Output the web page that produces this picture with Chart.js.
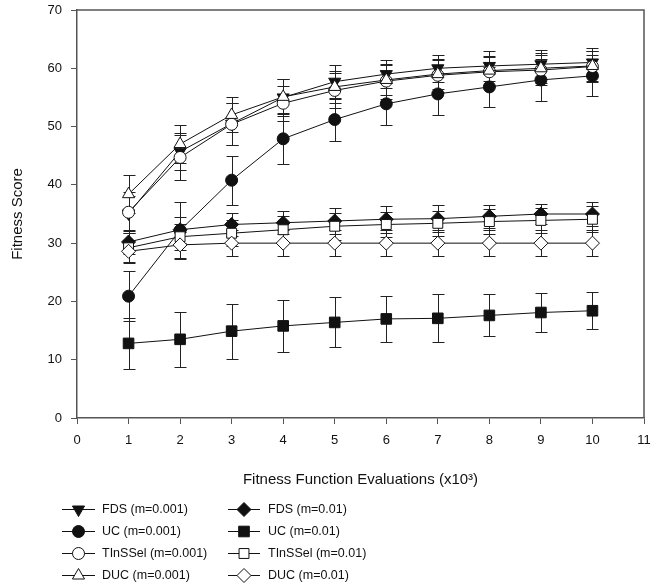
<!DOCTYPE html>
<html>
<head>
<meta charset="utf-8">
<script src="https://cdn.jsdelivr.net/npm/chart.js@4/dist/chart.umd.min.js"></script>
<style>
html,body{margin:0;padding:0;background:#fff;}
#wrap{width:662px;height:583px;position:relative;}
</style>
</head>
<body>
<div id="wrap"><canvas id="c" width="662" height="583"></canvas></div>
<script>
const evaluations = [1, 2, 3, 4, 5, 6, 7, 8, 9, 10];
const xTicks = [0, 1, 2, 3, 4, 5, 6, 7, 8, 9, 10, 11];
const yTicks = [0, 10, 20, 30, 40, 50, 60, 70];

const fds001 = [35.1, 45.7, 50.5, 55.0, 57.7, 59.0, 60.0, 60.4, 60.7, 61.0];
const fds001Err = [3.0, 3.2, 3.6, 3.2, 2.8, 2.4, 2.3, 2.5, 2.5, 2.4];
const uc001 = [20.9, 32.2, 40.8, 47.9, 51.2, 53.9, 55.6, 56.8, 58.0, 58.7];
const uc001Err = [4.3, 4.9, 4.2, 4.4, 3.6, 3.6, 3.6, 3.4, 3.6, 3.5];
const tin001 = [35.3, 44.7, 50.4, 54.0, 56.2, 57.8, 58.8, 59.4, 59.7, 60.3];
const tin001Err = [3.5, 3.8, 3.6, 3.0, 3.0, 3.0, 2.8, 2.6, 2.6, 2.6];
const duc001 = [38.4, 47.0, 52.0, 55.1, 56.8, 58.0, 59.0, 59.6, 60.0, 60.4];
const duc001Err = [3.3, 3.3, 3.0, 3.0, 2.8, 2.6, 2.5, 2.5, 2.6, 2.5];

const fds01 = [30.2, 32.3, 33.2, 33.5, 33.8, 34.1, 34.2, 34.6, 35.0, 35.0];
const fds01Err = [2.0, 2.2, 2.0, 2.0, 2.2, 2.3, 2.3, 2.0, 1.8, 2.1];
const uc01 = [12.8, 13.5, 14.9, 15.8, 16.4, 17.0, 17.1, 17.6, 18.1, 18.4];
const uc01Err = [4.4, 4.7, 4.7, 4.4, 4.3, 4.0, 4.1, 3.6, 3.4, 3.2];
const tin01 = [29.2, 31.1, 31.7, 32.3, 32.9, 33.2, 33.4, 33.7, 33.9, 34.1];
const tin01Err = [2.5, 2.2, 2.2, 2.3, 2.3, 2.2, 2.2, 2.2, 2.1, 2.2];
const duc01 = [28.6, 29.7, 30.0, 30.0, 30.0, 30.0, 30.0, 30.0, 30.0, 30.0];
const duc01Err = [2.0, 2.2, 2.2, 2.2, 2.2, 2.2, 2.2, 2.2, 2.2, 2.2];

const xTitle = 'Fitness Function Evaluations (x10\u00B3)';
const yTitle = 'Fitness Score';

const FONT = '"Liberation Sans", Arial, sans-serif';

function pts(vals) { return evaluations.map((x, i) => ({x: x, y: vals[i]})); }

function ds(label, vals, errs, style, fill, radius, rotation, col, row) {
  return {
    label: label, data: pts(vals), errors: errs,
    borderColor: '#111', borderWidth: 1,
    pointStyle: style, pointRadius: radius, pointHoverRadius: radius,
    pointRotation: rotation || 0,
    pointBackgroundColor: fill, pointBorderColor: '#111', pointBorderWidth: 1,
    fill: false, tension: 0,
    legendCol: col, legendRow: row
  };
}

const datasets = [
  ds('DUC (m=0.01)', duc01, duc01Err, 'rectRot', '#fff', 7, 0, 1, 3),
  ds('TInSSel (m=0.01)', tin01, tin01Err, 'rect', '#fff', 7, 0, 1, 2),
  ds('UC (m=0.01)', uc01, uc01Err, 'rect', '#111', 7.5, 0, 1, 1),
  ds('FDS (m=0.01)', fds01, fds01Err, 'rectRot', '#111', 7, 0, 1, 0),
  ds('DUC (m=0.001)', duc001, duc001Err, 'triangle', '#fff', 7, 0, 0, 3),
  ds('TInSSel (m=0.001)', tin001, tin001Err, 'circle', '#fff', 6, 0, 0, 2),
  ds('UC (m=0.001)', uc001, uc001Err, 'circle', '#111', 6, 0, 0, 1),
  ds('FDS (m=0.001)', fds001, fds001Err, 'triangle', '#111', 7, 180, 0, 0)
];

const errorBars = {
  id: 'errorBars',
  beforeDatasetsDraw(chart) {
    const ctx = chart.ctx, xs = chart.scales.x, ys = chart.scales.y;
    ctx.save();
    ctx.strokeStyle = '#222';
    ctx.lineWidth = 1;
    chart.data.datasets.forEach(d => {
      d.data.forEach((p, j) => {
        const e = d.errors[j];
        const px = Math.round(xs.getPixelForValue(p.x)) + 0.5;
        const t = Math.round(ys.getPixelForValue(p.y + e)) + 0.5;
        const b = Math.round(ys.getPixelForValue(p.y - e)) + 0.5;
        ctx.beginPath();
        ctx.moveTo(px, t); ctx.lineTo(px, b);
        ctx.moveTo(px - 6, t); ctx.lineTo(px + 6, t);
        ctx.moveTo(px - 6, b); ctx.lineTo(px + 6, b);
        ctx.stroke();
      });
    });
    ctx.restore();
  }
};

const frame = {
  id: 'frame',
  afterDraw(chart) {
    const ctx = chart.ctx, a = chart.chartArea;
    ctx.save();
    ctx.strokeStyle = '#555';
    ctx.lineWidth = 1.5;
    ctx.beginPath();
    ctx.moveTo(a.left, a.top); ctx.lineTo(a.right, a.top); ctx.lineTo(a.right, a.bottom);
    ctx.stroke();
    ctx.restore();
  }
};

const legendPlot = {
  id: 'legendPlot',
  afterDraw(chart) {
    const ctx = chart.ctx;
    const colLine = [[62, 95], [228, 260]];
    const colText = [102, 268];
    const rowY = [509, 531, 553, 575];
    ctx.save();
    chart.data.datasets.forEach(d => {
      const y = rowY[d.legendRow];
      const [l, r] = colLine[d.legendCol];
      ctx.strokeStyle = '#111';
      ctx.lineWidth = 1;
      ctx.beginPath();
      ctx.moveTo(l, y + 0.5); ctx.lineTo(r, y + 0.5);
      ctx.stroke();
      ctx.fillStyle = d.pointBackgroundColor;
      ctx.strokeStyle = '#111';
      Chart.helpers.drawPoint(ctx, {pointStyle: d.pointStyle, rotation: d.pointRotation, radius: d.pointRadius, borderWidth: 1}, (l + r) / 2, y + 0.5);
      ctx.fillStyle = '#111';
      ctx.font = '12.5px ' + FONT;
      ctx.textBaseline = 'middle';
      ctx.textAlign = 'left';
      ctx.fillText(d.label, colText[d.legendCol], y + 1);
    });
    ctx.restore();
  }
};

new Chart(document.getElementById('c'), {
  type: 'line',
  data: { datasets: datasets },
  plugins: [errorBars, frame, legendPlot],
  options: {
    responsive: false,
    animation: false,
    events: [],
    layout: { autoPadding: false, padding: { left: 0, top: 10, right: 18, bottom: 93 } },
    plugins: { legend: { display: false }, tooltip: { enabled: false } },
    scales: {
      x: {
        type: 'linear', min: 0, max: 11,
        afterFit(s) { s.height = 72; },
        afterBuildTicks(s) { s.ticks = xTicks.map(v => ({value: v})); },
        grid: { drawOnChartArea: false, drawTicks: true, tickLength: 6, color: '#555', lineWidth: 1 },
        border: { display: true, color: '#555', width: 1.5 },
        ticks: { color: '#111', font: { family: FONT, size: 13 }, padding: 9, maxRotation: 0 },
        title: { display: true, text: xTitle, color: '#111', font: { family: FONT, size: 15 }, padding: { top: 0, bottom: 1 } }
      },
      y: {
        type: 'linear', min: 0, max: 70,
        afterFit(s) { s.width = 77; },
        afterBuildTicks(s) { s.ticks = yTicks.map(v => ({value: v})); },
        grid: { drawOnChartArea: false, drawTicks: true, tickLength: 6, color: '#555', lineWidth: 1 },
        border: { display: true, color: '#555', width: 1.5 },
        ticks: { color: '#111', font: { family: FONT, size: 13, lineHeight: 0.1 }, padding: 9 },
        title: { display: true, text: yTitle, color: '#111', font: { family: FONT, size: 15 }, padding: { top: 9, bottom: 0 } }
      }
    }
  }
});
</script>
</body>
</html>
